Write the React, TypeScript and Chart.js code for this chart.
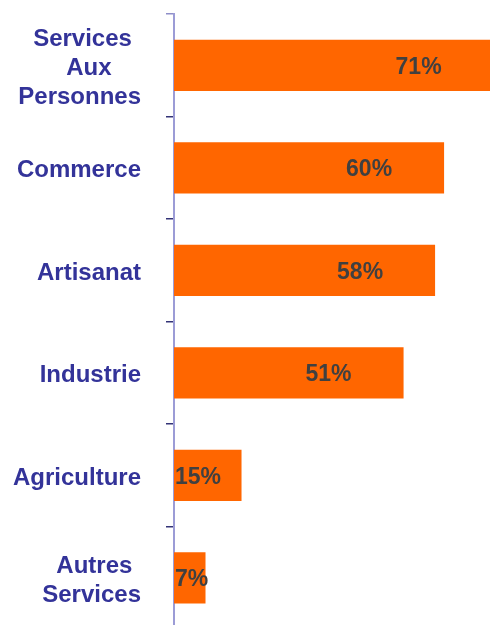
import React, { useEffect, useRef } from "react";
import { Chart, registerables } from "chart.js";

Chart.register(...registerables);

const categories: string[][] = [
  ["Services", "Aux", "Personnes"],
  ["Commerce"],
  ["Artisanat"],
  ["Industrie"],
  ["Agriculture"],
  ["Autres", "Services"],
];
const values: number[] = [71, 60, 58, 51, 15, 7];
const valueLabels: string[] = ["71%", "60%", "58%", "51%", "15%", "7%"];

const FONT = '"Liberation Sans", Arial, sans-serif';

const labelPlugin = {
  id: "customLabels",
  afterDraw(chart: any) {
    const ctx = chart.ctx;
    const yScale = chart.scales.y;
    const area = chart.chartArea;
    ctx.save();
    // category labels
    ctx.font = `bold 24px ${FONT}`;
    ctx.fillStyle = "#333399";
    ctx.textBaseline = "middle";
    ctx.textAlign = "center";
    const right = area.left - 33;
    const lh = 29;
    categories.forEach((lines, i) => {
      const cy = yScale.getPixelForValue(i);
      const w = Math.max(...lines.map((l) => ctx.measureText(l).width));
      const top = cy - ((lines.length - 1) * lh) / 2;
      lines.forEach((l, j) => {
        const lw = ctx.measureText(l).width;
        const cx = right - w / 2 + (w - lw) * 0.12;
        ctx.fillText(l, cx, top + j * lh + 3);
      });
    });
    // value labels
    ctx.font = `bold 23px ${FONT}`;
    ctx.fillStyle = "#404040";
    ctx.textAlign = "right";
    const meta = chart.getDatasetMeta(0);
    meta.data.forEach((bar: any, i: number) => {
      const txt = valueLabels[i];
      const w = ctx.measureText(txt).width;
      let rx = bar.x - 52;
      const minRx = area.left + 1 + w;
      if (rx < minRx) rx = minRx;
      ctx.fillText(txt, rx, bar.y + 2);
    });
    ctx.restore();
  },
};

export default function App() {
  const ref = useRef<HTMLCanvasElement | null>(null);
  useEffect(() => {
    if (!ref.current) return;
    const chart = new Chart(ref.current, {
      type: "bar",
      data: {
        labels: categories.map((c) => c.join(" ")),
        datasets: [
          {
            data: values,
            backgroundColor: "#FF6600",
            borderWidth: 0,
            barPercentage: 0.5,
            categoryPercentage: 1,
          },
        ],
      },
      options: {
        indexAxis: "y",
        responsive: false,
        animation: false,
        layout: { padding: { top: 14, bottom: 1, left: 0, right: 0 } },
        plugins: {
          legend: { display: false },
          tooltip: { enabled: false },
        },
        scales: {
          x: { display: false, min: 0, max: 70.2 },
          y: {
            z: 1,
            afterFit: (scale: any) => {
              scale.width = 174;
            },
            ticks: { display: false },
            grid: {
              offset: true,
              drawOnChartArea: false,
              drawTicks: true,
              tickLength: 8,
              color: (c: any) => (c.index === 0 ? "#8E8EC8" : "#333377"),
              lineWidth: 1.5,
            },
            border: { color: "#9C9CD6", width: 2 },
          },
        },
      },
      plugins: [labelPlugin],
    });
    return () => chart.destroy();
  }, []);
  return (
    <div style={{ position: "fixed", left: 0, top: 0, width: 490, height: 630, background: "#fff" }}>
      <canvas ref={ref} width={490} height={630} />
    </div>
  );
}
